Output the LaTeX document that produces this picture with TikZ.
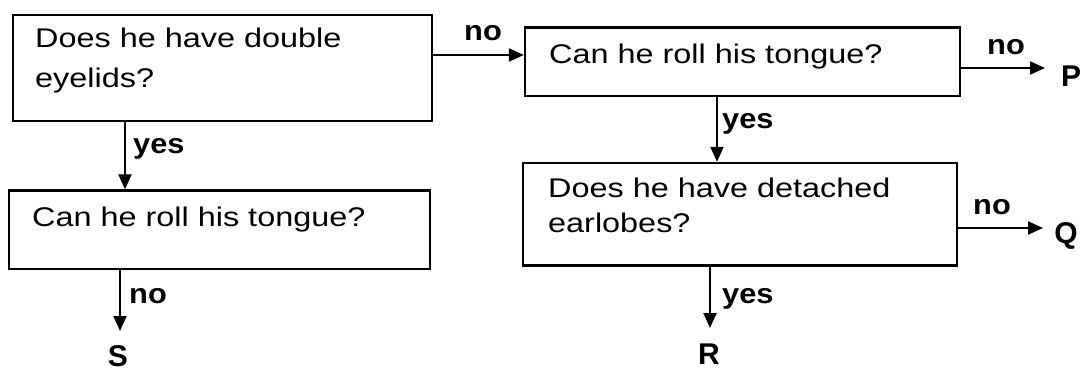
\documentclass[tikz,border=0pt]{standalone}
\usepackage{fontspec}
\setmainfont{Liberation Sans}
\usepackage{graphicx}
\usetikzlibrary{arrows.meta}
\newcommand\wtext[2]{\scalebox{#1}[1]{#2}}
\begin{document}
\begin{tikzpicture}[x=1pt,y=-1pt,
  box/.style={draw, line width=2.3pt, inner sep=0pt},
  txt/.style={anchor=base west, inner sep=0pt},
  lbl/.style={inner sep=0pt, font=\bfseries\fontsize{28}{30}\selectfont},
  letter/.style={inner sep=0pt, font=\bfseries\fontsize{30}{32}\selectfont},
  arr/.style={line width=2pt, -{Triangle[length=15pt,width=13pt]}}]
\useasboundingbox (0,0) rectangle (1087,374);
% boxes
\node[box, minimum width=419pt, minimum height=106pt] (b1) at (222.5,68) {};
\node[box, minimum width=421pt, minimum height=78.5pt] (b2) at (219.5,229.75) {};
\node[box, minimum width=435pt, minimum height=68.5pt] (b3) at (742.5,61.75) {};
\node[box, minimum width=434pt, minimum height=102.5pt] (b4) at (740,214.25) {};
% box texts
\node[txt, font=\fontsize{27}{40}\selectfont] (t1) at (35,48)
  {\wtext{1.2}{\begin{tabular}[t]{@{}l@{}}Does he have double\\eyelids?\end{tabular}}};
\node[txt, font=\fontsize{27}{35}\selectfont] (t2) at (32,226)
  {\wtext{1.2}{Can he roll his tongue?}};
\node[txt, font=\fontsize{27}{35}\selectfont] (t3) at (549,64)
  {\wtext{1.2}{Can he roll his tongue?}};
\node[txt, font=\fontsize{27}{35}\selectfont] (t4) at (548,198)
  {\wtext{1.2}{\begin{tabular}[t]{@{}l@{}}Does he have detached\\earlobes?\end{tabular}}};
% end letters
\node[letter] (P) at (1071,76) {P};
\node[letter] (Q) at (1066,236) {Q};
\node[letter] (R) at (709,354) {R};
\node[letter] (S) at (118,356) {S};
% helper coordinates
\coordinate (ya) at (0,55);
\coordinate (xa) at (125,0);
\coordinate (xb) at (120,0);
\coordinate (xc) at (717,0);
\coordinate (xd) at (710,0);
\coordinate (pe) at (1045,68);
\coordinate (qe) at (1043,228);
\coordinate (re) at (710,328);
\coordinate (se) at (120,331);
% connectors
\draw[arr] (b1.east |- ya) -- (b3.west |- ya);
\draw[arr] (b1.south -| xa) -- (b2.north -| xa);
\draw[arr] (b2.south -| xb) -- (se);
\draw[arr] (b3.east |- pe) -- (pe);
\draw[arr] (b3.south -| xc) -- (b4.north -| xc);
\draw[arr] (b4.east |- qe) -- (qe);
\draw[arr] (b4.south -| xd) -- (re);
% labels
\node[lbl] (n1) at (483,33) {\wtext{1.1}{no}};
\node[lbl] (n2) at (1006,47) {\wtext{1.1}{no}};
\node[lbl, anchor=west] (y1) at (133,149) {\wtext{1.1}{yes}};
\node[lbl, anchor=west] (n3) at (129,296) {\wtext{1.1}{no}};
\node[lbl, anchor=west] (y2) at (722,124) {\wtext{1.1}{yes}};
\node[lbl] (n4) at (992,207) {\wtext{1.1}{no}};
\node[lbl, anchor=west] (y3) at (722,299) {\wtext{1.1}{yes}};
\end{tikzpicture}
\end{document}
